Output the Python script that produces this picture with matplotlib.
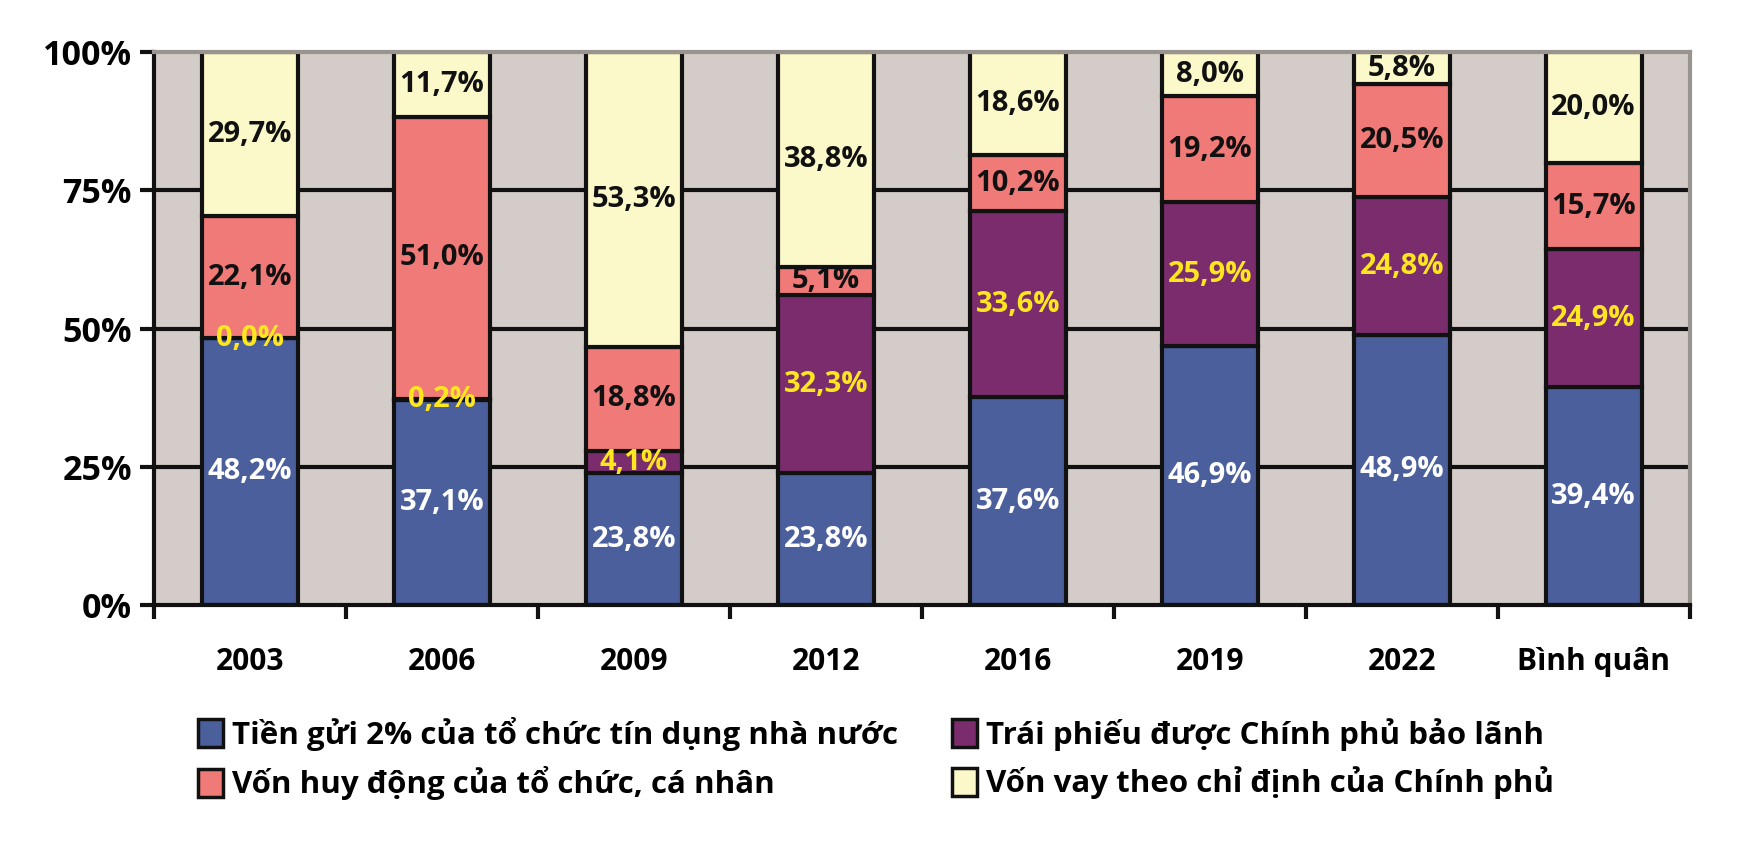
import matplotlib
matplotlib.use("Agg")
import matplotlib.pyplot as plt
from matplotlib.patches import Patch
import numpy as np

plt.rcParams['font.family'] = ['Open Sans', 'DejaVu Sans']
plt.rcParams['font.weight'] = 'bold'

categories = ["2003", "2006", "2009", "2012", "2016", "2019", "2022", "Bình quân"]
tien_gui = [48.2, 37.1, 23.8, 23.8, 37.6, 46.9, 48.9, 39.4]
trai_phieu = [0.0, 0.2, 4.1, 32.3, 33.6, 25.9, 24.8, 24.9]
von_huy_dong = [22.1, 51.0, 18.8, 5.1, 10.2, 19.2, 20.5, 15.7]
von_vay = [29.7, 11.7, 53.3, 38.8, 18.6, 8.0, 5.8, 20.0]
series_names = ["Tiền gửi 2% của tổ chức tín dụng nhà nước",
                "Trái phiếu được Chính phủ bảo lãnh",
                "Vốn huy động của tổ chức, cá nhân",
                "Vốn vay theo chỉ định của Chính phủ"]
y_ticks = [0, 25, 50, 75, 100]
y_tick_labels = ["0%", "25%", "50%", "75%", "100%"]

colors = ["#4A5F9C", "#7A2C6C", "#F07A78", "#FBF8CA"]
label_colors = ["white", "#FFE61E", "#111111", "#111111"]
series = [tien_gui, trai_phieu, von_huy_dong, von_vay]

fig = plt.figure(figsize=(17.41, 8.43), dpi=100)
ax = fig.add_axes([0.0885, 0.2823, 0.882, 0.656])
ax.set_facecolor("#D3CCC8")

x = np.arange(len(categories))
ax.set_xlim(-0.5, len(categories) - 0.5)
ax.set_ylim(0, 100)

for yv in [25, 50, 75]:
    ax.axhline(yv, color="#111111", lw=3, zorder=1)

bottom = np.zeros(len(categories))
for vals, col, lc in zip(series, colors, label_colors):
    vals = np.array(vals)
    ax.bar(x, vals, 0.5, bottom=bottom, color=col, edgecolor="#111111",
           linewidth=3, zorder=2)
    for xi, b, v in zip(x, bottom, vals):
        ax.text(xi, b + v / 2, f"{v:.1f}%".replace(".", ","), ha="center",
                va="center", color=lc, fontsize=21, fontweight="bold", zorder=3)
    bottom += vals

ax.set_yticks(y_ticks)
ax.set_yticklabels(y_tick_labels, fontsize=24.5, fontweight="bold")
ax.set_xticks(x)
ax.set_xticklabels(categories, fontsize=21.5, fontweight="bold")
ax.tick_params(axis="x", length=0, pad=30)
ax.set_xticks(np.arange(-0.5, len(categories), 1.0), minor=True)
ax.tick_params(axis="x", which="minor", length=10, width=3, color="#111111", direction="out")
ax.tick_params(axis="y", length=10, width=3, color="#111111", direction="out", pad=6)

for side in ["left", "bottom"]:
    ax.spines[side].set_color("#111111")
    ax.spines[side].set_linewidth(3)
for side in ["top", "right"]:
    ax.spines[side].set_color("#9A9490")
    ax.spines[side].set_linewidth(3)

order = [0, 2, 1, 3]
handles = [Patch(facecolor=colors[i], edgecolor="#111111", linewidth=2.5) for i in order]
labels = [series_names[i] for i in order]
leg = fig.legend(handles, labels, ncol=2, loc="upper left",
                 bbox_to_anchor=(0.103, 0.172), frameon=False,
                 prop={"size": 22.5, "weight": "bold"},
                 handlelength=0.8, handleheight=1.0, handletextpad=0.3,
                 columnspacing=1.7, labelspacing=0.5, borderpad=0.1)

fig.savefig("out.png", dpi=100, facecolor="white")
